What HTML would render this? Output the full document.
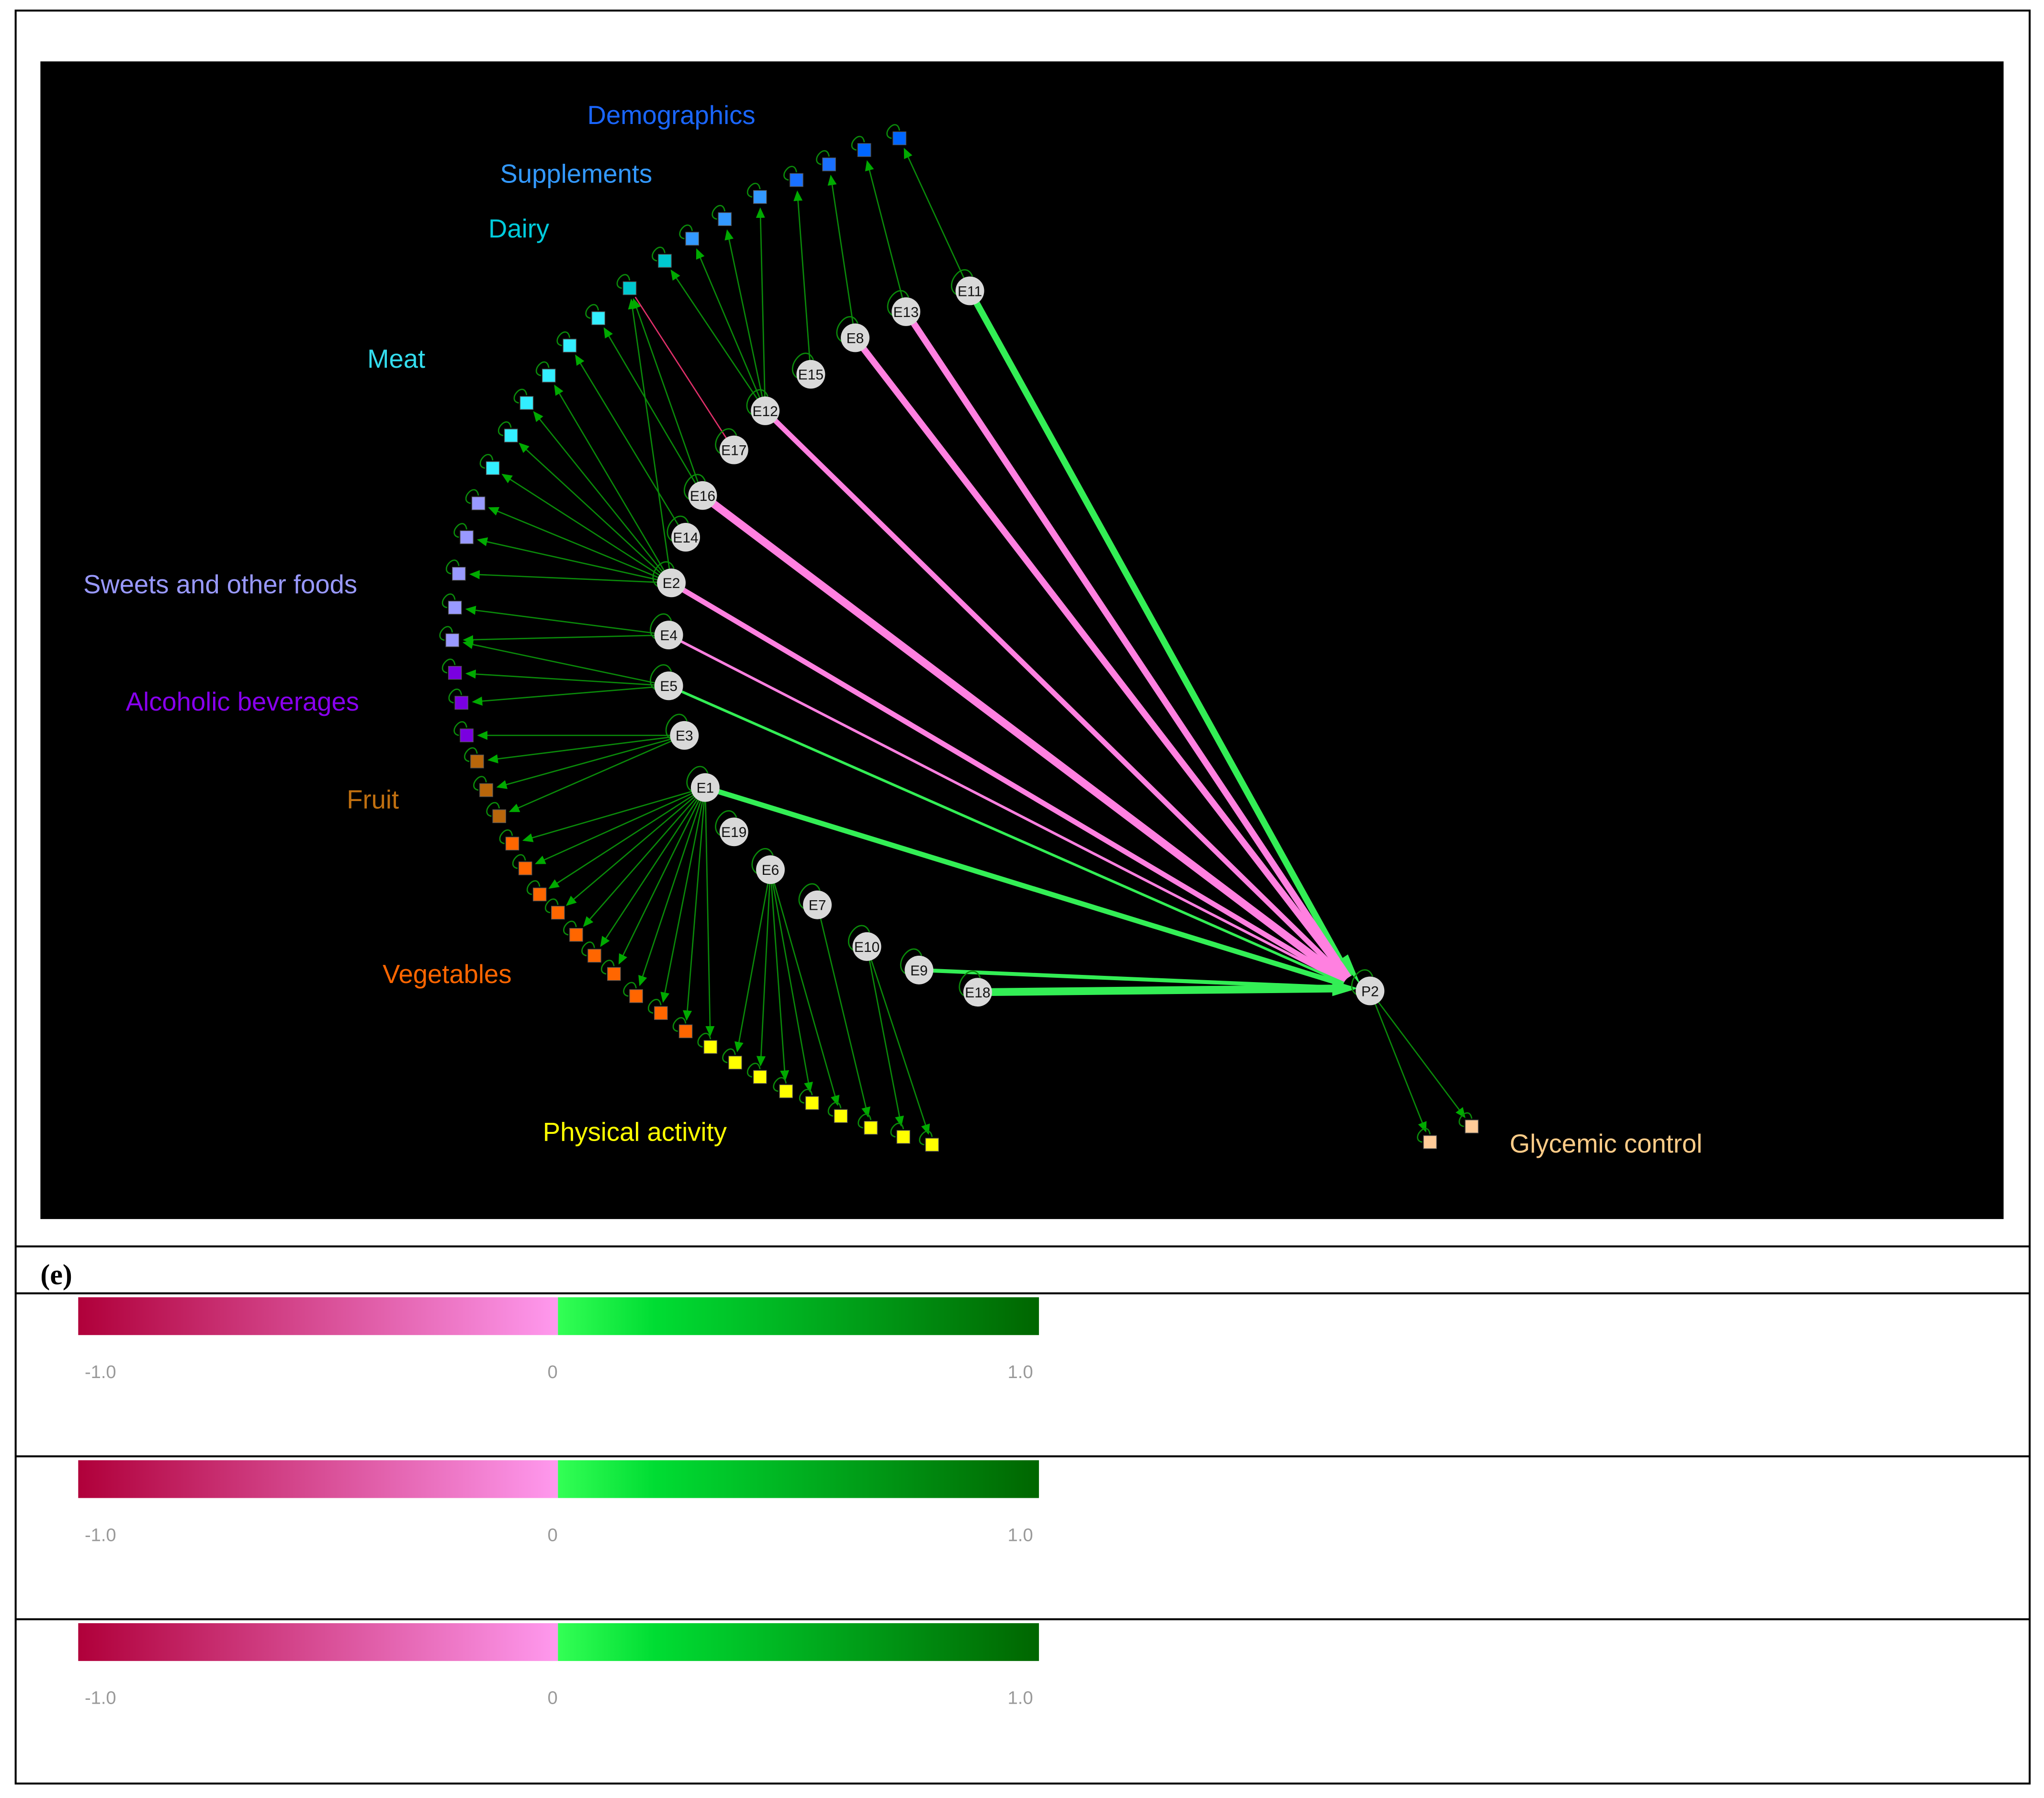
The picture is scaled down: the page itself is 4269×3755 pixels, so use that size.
<!DOCTYPE html>
<html><head><meta charset="utf-8"><style>
html,body{margin:0;padding:0;background:#fff;}
svg{display:block;}
</style></head><body>
<svg id="s" width="4269" height="3755" viewBox="0 0 1568 1379" xmlns="http://www.w3.org/2000/svg" font-family="Liberation Sans, sans-serif">
<defs>
<linearGradient id="g1" x1="0" x2="1"><stop offset="0" stop-color="#b0003a"/><stop offset="1" stop-color="#ff99ee"/></linearGradient>
<linearGradient id="g2" x1="0" x2="1"><stop offset="0" stop-color="#33ff55"/><stop offset="0.2" stop-color="#00dd33"/><stop offset="1" stop-color="#006600"/></linearGradient>
<marker id="ag" markerWidth="8" markerHeight="8" refX="7" refY="4" orient="auto" markerUnits="userSpaceOnUse"><path d="M0,0.5 L8,4 L0,7.5z" fill="#00aa00"/></marker>
<marker id="ab" markerWidth="6" markerHeight="6" refX="5" refY="3" orient="auto" markerUnits="userSpaceOnUse"><path d="M0,0 L6,3 L0,6z" fill="#33ff55"/></marker>
<marker id="ap" markerWidth="6" markerHeight="6" refX="5" refY="3" orient="auto" markerUnits="userSpaceOnUse"><path d="M0,0 L6,3 L0,6z" fill="#ff88e8"/></marker>
</defs>
<rect x="12" y="8" width="1545" height="1360" fill="#fff" stroke="#000" stroke-width="1.5"/>
<rect x="31" y="47" width="1506" height="888" fill="#000"/>
<line x1="12" y1="956" x2="1557" y2="956" stroke="#000" stroke-width="1.5"/>
<line x1="12" y1="992" x2="1557" y2="992" stroke="#000" stroke-width="1.5"/>
<line x1="12" y1="1117" x2="1557" y2="1117" stroke="#000" stroke-width="1.5"/>
<line x1="12" y1="1242" x2="1557" y2="1242" stroke="#000" stroke-width="1.5"/>
<text x="31" y="985" font-family="Liberation Serif, serif" font-weight="bold" font-size="22">(e)</text>
<g id="bars"></g>
<g id="edges"></g>
<g id="nodes"></g>
<g font-size="20">
<text x="515" y="95" text-anchor="middle" fill="#1a66ff">Demographics</text>
<text x="442" y="140" text-anchor="middle" fill="#3399ff">Supplements</text>
<text x="398" y="182" text-anchor="middle" fill="#00ccdd">Dairy</text>
<text x="304" y="282" text-anchor="middle" fill="#33ddee">Meat</text>
<text x="169" y="455" text-anchor="middle" fill="#9999ff">Sweets and other foods</text>
<text x="186" y="545" text-anchor="middle" fill="#8800ee">Alcoholic beverages</text>
<text x="286" y="620" text-anchor="middle" fill="#c07010">Fruit</text>
<text x="343" y="754" text-anchor="middle" fill="#ff6600">Vegetables</text>
<text x="487" y="875" text-anchor="middle" fill="#ffff00">Physical activity</text>
<text x="1232" y="884" text-anchor="middle" fill="#ffcc88">Glycemic control</text>
</g>
</svg>
<script>
var NS="http://www.w3.org/2000/svg";
function el(p,t,a,txt){var e=document.createElementNS(NS,t);for(var k in a)e.setAttribute(k,a[k]);if(txt!=null)e.textContent=txt;document.getElementById(p).appendChild(e);return e;}
[995,1120,1245].forEach(function(y){
 el("bars","rect",{x:60,y:y,width:368,height:29,fill:"url(#g1)"});
 el("bars","rect",{x:428,y:y,width:369,height:29,fill:"url(#g2)"});
 el("bars","text",{x:65,y:y+62,"font-size":14,fill:"#999"},"-1.0");
 el("bars","text",{x:420,y:y+62,"font-size":14,fill:"#999"},"0");
 el("bars","text",{x:773,y:y+62,"font-size":14,fill:"#999"},"1.0");
});
var N={E11:[744,223],E13:[695,239],E8:[656,259],E15:[622,287],E12:[587,315],E17:[563,345],E16:[539,380],E14:[526,412],E2:[515,447],E4:[513,487],E5:[513,526],E3:[525,564],E1:[541,604],E19:[563,638],E6:[591,667],E7:[627,694],E10:[665,726],E9:[705,744],E18:[750,761],P2:[1051,760]};
var S=[[690,106,"#0066ff"],[663,115,"#0066ff"],[636,126,"#1a70ff"],[611,138,"#1a70ff"],[583,151,"#3399ff"],[556,168,"#3399ff"],[531,183,"#3399ff"],
[510,200,"#00c8d0"],[483,221,"#00c8d0"],[459,244,"#33eeff"],[437,265,"#33eeff"],[421,288,"#33eeff"],[404,309,"#33eeff"],[392,334,"#33eeff"],[378,359,"#33eeff"],
[367,386,"#9999ff"],[358,412,"#9999ff"],[352,440,"#9999ff"],[349,466,"#9999ff"],[347,491,"#9999ff"],
[349,516,"#7a00e0"],[354,539,"#7a00e0"],[358,564,"#7a00e0"],
[366,584,"#b8660b"],[373,606,"#b8660b"],[383,626,"#b8660b"],
[393,647,"#ff6600"],[403,666,"#ff6600"],[414,686,"#ff6600"],[428,700,"#ff6600"],[442,717,"#ff6600"],[456,733,"#ff6600"],[471,747,"#ff6600"],[488,764,"#ff6600"],[507,777,"#ff6600"],[526,791,"#ff6600"],
[545,803,"#ffff00"],[564,815,"#ffff00"],[583,826,"#ffff00"],[603,837,"#ffff00"],[623,846,"#ffff00"],[645,856,"#ffff00"],[668,865,"#ffff00"],[693,872,"#ffff00"],[715,878,"#ffff00"],
[1097,876,"#ffcc99"],[1129,864,"#ffcc99"]];
var M={E11:[0],E13:[1],E8:[2],E15:[3],E12:[4,5,6,7],E16:[8,9],E14:[10],E2:[8,11,12,13,14,15,16,17],E4:[18,19],E5:[19,20,21],E3:[22,23,24,25],E1:[26,27,28,29,30,31,32,33,34,35,36],E6:[37,38,39,40,41],E7:[42],E10:[43,44]};
function sh(x1,y1,x2,y2,r){var dx=x2-x1,dy=y2-y1,d=Math.hypot(dx,dy);return[x1+dx/d*r,y1+dy/d*r,x2-dx/d*r,y2-dy/d*r];}
for(var k in M)M[k].forEach(function(i){var a=N[k],b=S[i];var p=sh(a[0],a[1],b[0],b[1],9);el("edges","line",{x1:p[0],y1:p[1],x2:p[2],y2:p[3],stroke:"#0a8a0a","stroke-width":1,"marker-end":"url(#ag)"});});
var pk=sh(563,345,483,221,8);el("edges","line",{x1:pk[0],y1:pk[1],x2:pk[2],y2:pk[3],stroke:"#e0306a","stroke-width":1});
[45,46].forEach(function(i){var b=S[i];var p=sh(1051,760,b[0],b[1],9);el("edges","line",{x1:p[0],y1:p[1],x2:p[2],y2:p[3],stroke:"#0a8a0a","stroke-width":1,"marker-end":"url(#ag)"});});
var B=[["E11","#33ee55",5],["E13","#ff80e0",5],["E8","#ff80e0",5],["E12","#ff80e0",4],["E16","#ff80e0",6],["E2","#ff80e0",4],["E4","#ff80e0",2],["E5","#33ee55",2],["E1","#33ee55",4],["E9","#33ee55",3],["E18","#33ee55",6]];
B.forEach(function(b){var a=N[b[0]];var p=sh(a[0],a[1],1040,758,10);el("edges","line",{x1:p[0],y1:p[1],x2:p[2],y2:p[3],stroke:b[1],"stroke-width":b[2]});});
el("edges","path",{d:"M1022,752 L1042,758 L1022,764z",fill:"#33ee55"});
el("edges","path",{d:"M1028,736 L1044,756 L1034,732z",fill:"#33ee55"});
S.forEach(function(s){var x=s[0],y=s[1];
 el("edges","path",{d:"M"+(x-6)+","+y+" C"+(x-16)+","+(y-2)+" "+(x-2)+","+(y-18)+" "+x+","+(y-6),fill:"none",stroke:"#0a8a0a","stroke-width":1});
 el("nodes","rect",{x:x-5,y:y-5,width:10,height:10,fill:s[2],stroke:"#555","stroke-width":0.5});});
for(var k in N){var a=N[k];
 el("edges","path",{d:"M"+(a[0]-10)+","+(a[1]+3)+" C"+(a[0]-22)+","+(a[1]-4)+" "+(a[0]-4)+","+(a[1]-26)+" "+(a[0]+2)+","+(a[1]-11),fill:"none",stroke:"#0a8a0a","stroke-width":1});
 el("nodes","ellipse",{cx:a[0],cy:a[1],rx:11,ry:11,fill:"#d9d9d9"});
 el("nodes","text",{x:a[0],y:a[1]+4,"text-anchor":"middle","font-size":11,fill:"#111"},k);}
</script>
</body></html>
